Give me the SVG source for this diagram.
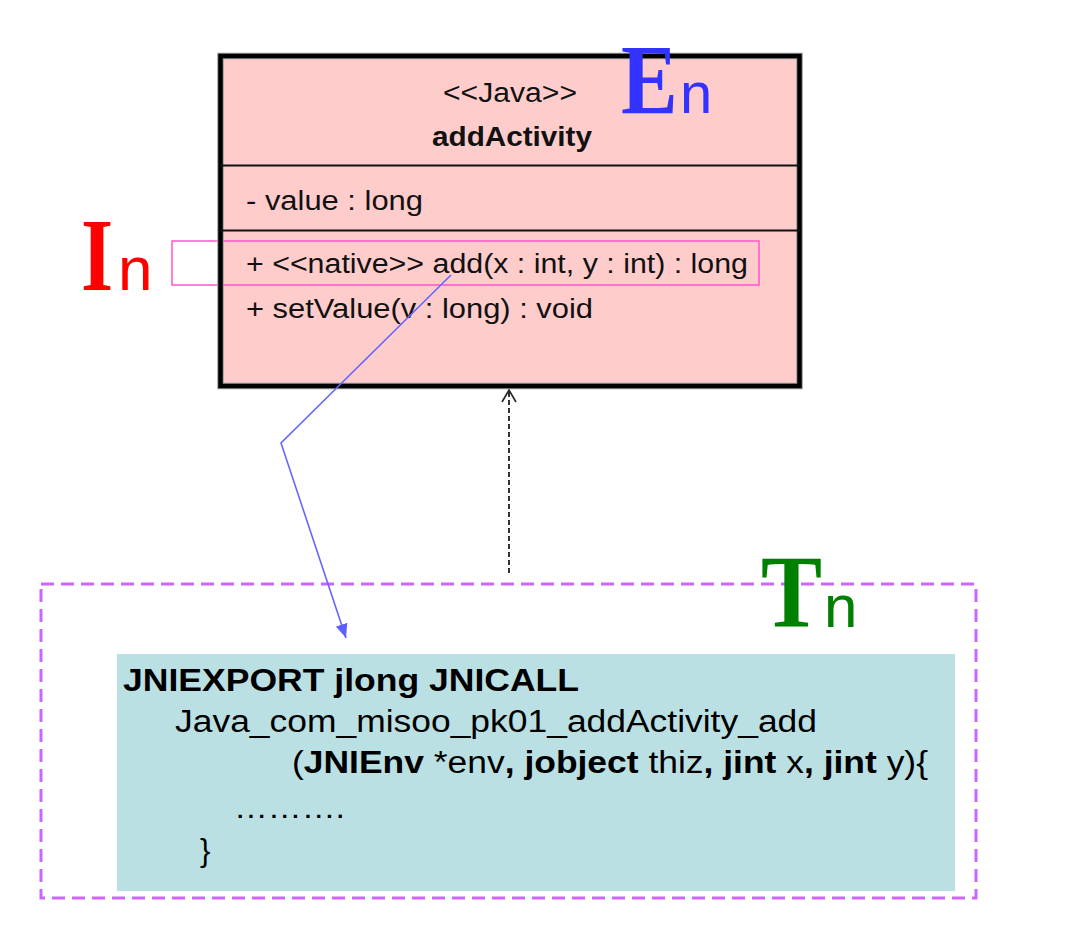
<svg xmlns="http://www.w3.org/2000/svg" width="1066" height="938" viewBox="0 0 1066 938">
<style>
.uml{font-family:"Liberation Sans",Arial,sans-serif;font-size:27px;fill:#111}
.code{font-family:"Liberation Sans",Arial,sans-serif;font-size:31px;fill:#000}
.b{font-weight:bold}
.big{font-family:"Liberation Serif","Times New Roman",serif;font-weight:bold}
.sub{font-family:"Liberation Sans",Arial,sans-serif;font-weight:normal}
</style>
<defs>
<marker id="fillArrow" markerUnits="userSpaceOnUse" markerWidth="16" markerHeight="14" refX="14" refY="6" orient="auto" viewBox="0 0 16 12">
<path d="M0,0 L14,6 L0,12 Z" fill="#5f5fff"/>
</marker>
<marker id="openArrow" markerUnits="userSpaceOnUse" markerWidth="16" markerHeight="18" refX="13" refY="8" orient="auto" viewBox="0 0 16 16">
<path d="M1,1 L13,8 L1,15" fill="none" stroke="#222" stroke-width="1.6"/>
</marker>
</defs>
<rect width="1066" height="938" fill="#ffffff"/>

<g id="native-boundary">
<rect x="41" y="584" width="935" height="314" fill="none" stroke="#cc66ff" stroke-width="3" stroke-dasharray="13 7"/>
</g>

<g id="addActivity-class">
<rect x="220.5" y="56" width="579" height="330" fill="#ffcccc"/>
<rect id="native-method-highlight" x="172" y="241" width="587" height="44" fill="none" stroke="#ff55cc" stroke-width="1.5"/>
<rect x="220.5" y="56" width="579" height="330" fill="none" stroke="#999" stroke-width="6.5"/>
<rect x="220.5" y="56" width="579" height="330" fill="none" stroke="#000" stroke-width="4.5"/>
<line x1="220" y1="165.5" x2="800" y2="165.5" stroke="#111" stroke-width="2"/>
<line x1="220" y1="230.5" x2="800" y2="230.5" stroke="#111" stroke-width="2"/>
<text class="uml" x="443" y="102" textLength="134" lengthAdjust="spacingAndGlyphs">&lt;&lt;Java&gt;&gt;</text>
<text class="uml b" x="432" y="146" font-size="29" textLength="160" lengthAdjust="spacingAndGlyphs">addActivity</text>
<text class="uml" x="246" y="210" textLength="177" lengthAdjust="spacingAndGlyphs">- value : long</text>
<text class="uml" x="246" y="273" textLength="502" lengthAdjust="spacingAndGlyphs">+ &lt;&lt;native&gt;&gt; add(x : int, y : int) : long</text>
<text class="uml" x="246" y="318" textLength="347" lengthAdjust="spacingAndGlyphs">+ setValue(v : long) : void</text>
</g>

<g id="jni-function">
<rect x="117" y="654" width="838" height="237" fill="#bbe0e3"/>
<text class="code b" x="123" y="691" font-size="29.5" textLength="456" lengthAdjust="spacingAndGlyphs">JNIEXPORT jlong JNICALL</text>
<text class="code" x="175" y="732" textLength="642" lengthAdjust="spacingAndGlyphs">Java_com_misoo_pk01_addActivity_add</text>
<text class="code" x="292" y="773" textLength="636" lengthAdjust="spacingAndGlyphs">(<tspan class="b">JNIEnv</tspan> *env<tspan class="b">, jobject</tspan> thiz<tspan class="b">, jint</tspan> x<tspan class="b">, jint</tspan> y){</text>
<text class="code" x="234" y="818" font-size="32" textLength="111" lengthAdjust="spacingAndGlyphs">……….</text>
<text class="code" x="200" y="861" font-size="33">}</text>
</g>

<g id="labels">
<text class="big" transform="translate(81,290) scale(0.8,1)" font-size="103" fill="#ff0000">I</text>
<text class="sub" x="118" y="290" font-size="62" fill="#ff0000">n</text>
<text class="big" transform="translate(621,113) scale(0.85,1)" font-size="100" fill="#3333ff">E</text>
<text class="sub" x="680" y="113" font-size="58" fill="#3333ff">n</text>
<text class="big" transform="translate(761,627) scale(0.88,1)" font-size="104" fill="#008000">T</text>
<text class="sub" x="824" y="627" font-size="60" fill="#008000">n</text>
</g>

<g id="connectors">
<polyline points="451,275 281,443 346,638" fill="none" stroke="#6666ff" stroke-width="1.6" marker-end="url(#fillArrow)"/>
<line x1="509" y1="573" x2="509" y2="390" stroke="#333" stroke-width="2" stroke-dasharray="5 3" marker-end="url(#openArrow)"/>
</g>
</svg>
